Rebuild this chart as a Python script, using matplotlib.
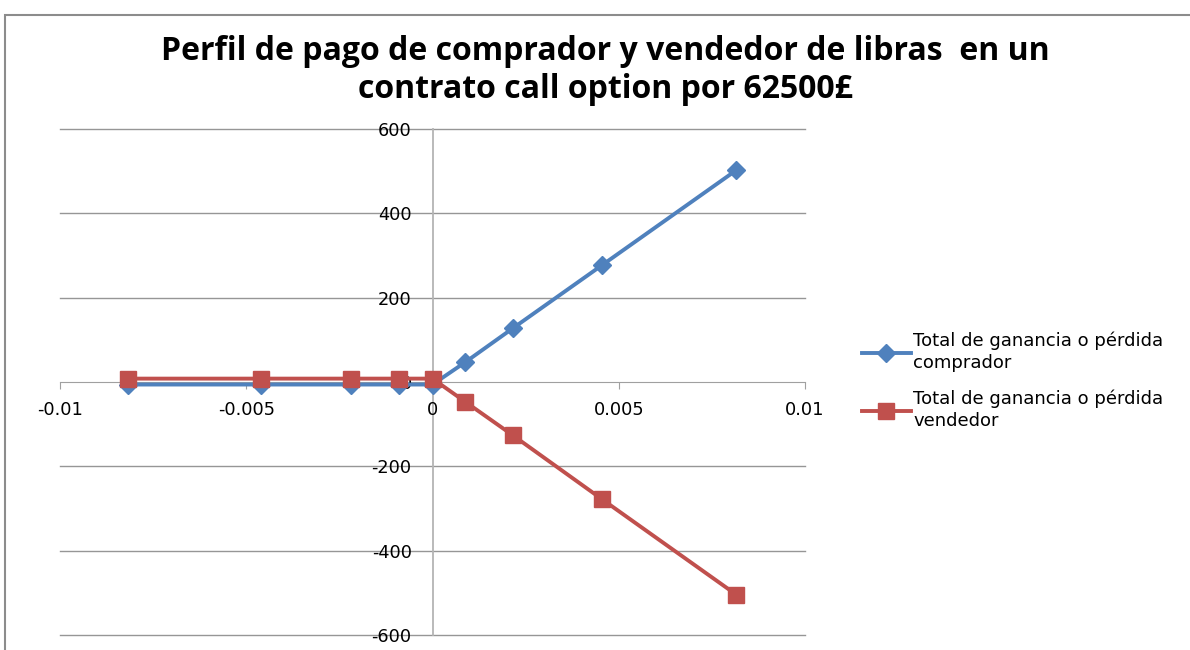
import numpy as np
import matplotlib.pyplot as plt
from matplotlib.patches import Rectangle

# Data
x_comprador = [-0.00818, -0.0046, -0.00219, -0.00091, 0.0, 0.00088, 0.00215, 0.00455, 0.00815]
y_comprador = [-6, -6, -6, -6, -6, 47, 127, 277, 502]
x_vendedor = [-0.00818, -0.0046, -0.00219, -0.00091, 0.0, 0.00088, 0.00215, 0.00455, 0.00815]
y_vendedor = [8, 8, 8, 8, 8, -47, -126, -278, -504]

x_ticks = [-0.01, -0.005, 0, 0.005, 0.01]
x_ticklabels = ['-0.01', '-0.005', '0', '0.005', '0.01']
y_ticks = [-600, -400, -200, 0, 200, 400, 600]

label_comprador = 'Total de ganancia o pérdida\ncomprador'
label_vendedor = 'Total de ganancia o pérdida\nvendedor'
title = 'Perfil de pago de comprador y vendedor de libras  en un\ncontrato call option por 62500£'

plt.rcParams['font.family'] = ['DejaVu Sans']
plt.rcParams['axes.unicode_minus'] = False

fig = plt.figure(figsize=(11.9, 6.5), dpi=100)
ax = fig.add_axes([60 / 1190, 1 - 635 / 650, (805 - 60) / 1190, (635 - 129) / 650])

# chart frame like the spreadsheet chart area
fig.patches.append(Rectangle((5 / 1190, -0.1), 1.2, 1 - 15 / 650 + 0.1,
                             transform=fig.transFigure, fill=False,
                             edgecolor='#8c8c8c', linewidth=1.5))

for yv in y_ticks:
    if yv != 0:
        ax.axhline(yv, color='#969696', linewidth=1, zorder=0, clip_on=False)

ax.plot(x_comprador, y_comprador, color='#4F81BD', linewidth=2.8, marker='D',
        markersize=9, label=label_comprador, zorder=3)
ax.plot(x_vendedor, y_vendedor, color='#C0504D', linewidth=2.8, marker='s',
        markersize=11.5, label=label_vendedor, zorder=3)

ax.set_xlim(-0.01, 0.01)
ax.set_ylim(-600, 600)

for s in ['top', 'right']:
    ax.spines[s].set_visible(False)
ax.spines['left'].set_position(('data', 0))
ax.spines['bottom'].set_position(('data', 0))
ax.spines['left'].set_color('#b4b4b4')
ax.spines['bottom'].set_color('#a0a0a0')
ax.spines['left'].set_linewidth(1.3)
ax.spines['left'].set_zorder(1)
ax.spines['bottom'].set_zorder(1)

ax.set_xticks(x_ticks)
ax.set_xticklabels(x_ticklabels)
ax.set_yticks(y_ticks)
ax.set_yticklabels([str(v) for v in y_ticks])
ax.tick_params(axis='x', direction='out', length=5, color='#a0a0a0', labelsize=12.8, pad=9)
ax.tick_params(axis='y', length=0, labelsize=12.8, pad=15)

fig.text(0.509, 0.8915, title, ha='center', va='center', fontsize=23,
         fontweight='bold', family=['Open Sans', 'DejaVu Sans'], linespacing=1.2)

leg = fig.legend(loc='center left', bbox_to_anchor=(853 / 1190, 1 - 381 / 650),
                 frameon=False, fontsize=13, handlelength=2.7, handletextpad=0.15,
                 labelspacing=0.95, borderpad=0)
for t in leg.get_texts():
    t.set_linespacing(1.3)

fig.savefig('out.png', dpi=100)
